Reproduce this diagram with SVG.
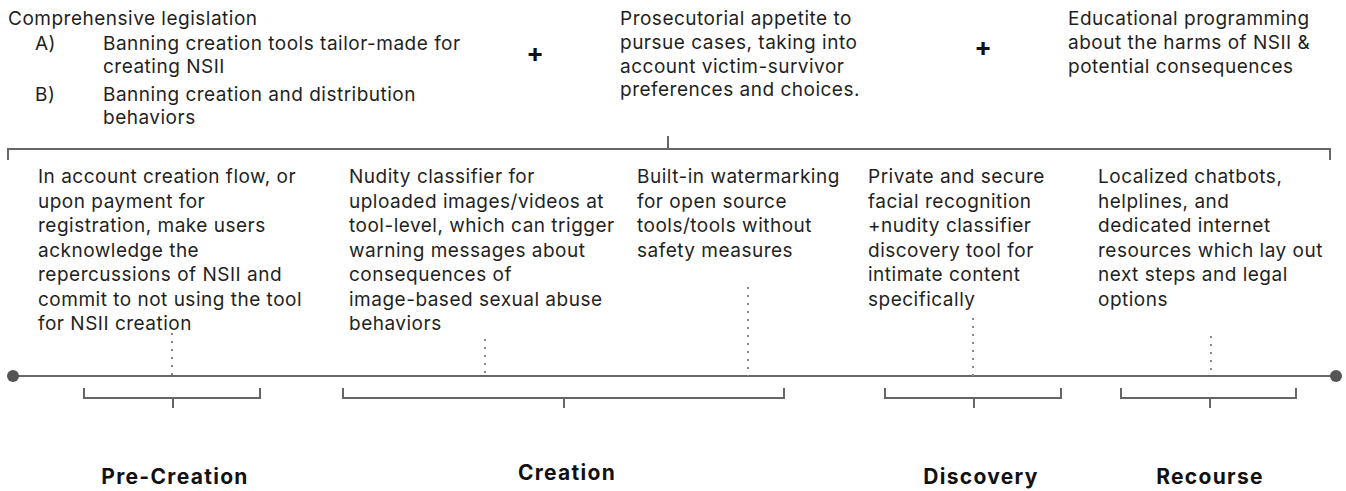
<svg xmlns="http://www.w3.org/2000/svg" width="1346" height="491" viewBox="0 0 1346 491">
<style>
text{font-family:Inter,Roboto,"Noto Sans","Liberation Sans",sans-serif;fill:#1f1f1f;}
.b{font-size:19px;letter-spacing:0.5px;}
.h{font-size:21px;font-weight:bold;text-anchor:middle;fill:#111;letter-spacing:1.3px;}
.plus{font-size:26px;font-weight:bold;text-anchor:middle;fill:#111;}
.ln{stroke:#666;stroke-width:2;fill:none;}
.dot{stroke:#888;stroke-width:2;stroke-dasharray:2 6;fill:none;}
</style>
<rect width="1346" height="491" fill="#fff"/>
<g id="legislation">
<text class="b" x="8" y="25">Comprehensive legislation</text>
<text class="b" x="35" y="50">A)</text>
<text class="b" x="103" y="50">Banning creation tools tailor-made for</text>
<text class="b" x="103" y="73">creating NSII</text>
<text class="b" x="35" y="101">B)</text>
<text class="b" x="103" y="101">Banning creation and distribution</text>
<text class="b" x="103" y="124">behaviors</text>
</g>
<g id="plus1"><text class="plus" x="535" y="62">+</text></g>
<g id="prosecution">
<text class="b" x="620" y="25">Prosecutorial appetite to</text>
<text class="b" x="620" y="49">pursue cases, taking into</text>
<text class="b" x="620" y="73">account victim-survivor</text>
<text class="b" x="620" y="96">preferences and choices.</text>
</g>
<g id="plus2"><text class="plus" x="983" y="56">+</text></g>
<g id="education">
<text class="b" x="1068" y="25">Educational programming</text>
<text class="b" x="1068" y="49">about the harms of NSII &amp;</text>
<text class="b" x="1068" y="73">potential consequences</text>
</g>
<g id="connectors">
<path class="ln" d="M8,160 V149 H1330 V160"/>
<path class="ln" d="M668,136 V149"/>
<path class="ln" d="M13,376 H1336"/>
<circle cx="13" cy="376" r="6" fill="#555"/>
<circle cx="1336" cy="376" r="6" fill="#555"/>
<path class="dot" d="M172,333 V376"/>
<path class="dot" d="M485,339 V376"/>
<path class="dot" d="M748,287 V376"/>
<path class="dot" d="M973,318 V376"/>
<path class="dot" d="M1211,336 V376"/>
<path class="ln" d="M84,388 V398 H260 V388 M173,398 V408"/>
<path class="ln" d="M343,388 V398 H784 V388 M564,398 V408"/>
<path class="ln" d="M885,388 V398 H1061 V388 M974,398 V408"/>
<path class="ln" d="M1121,388 V398 H1296 V388 M1210,398 V408"/>
</g>
<g id="precreation-item">
<text class="b" x="38" y="183">In account creation flow, or</text>
<text class="b" x="38" y="207.5">upon payment for</text>
<text class="b" x="38" y="232">registration, make users</text>
<text class="b" x="38" y="256.5">acknowledge the</text>
<text class="b" x="38" y="281">repercussions of NSII and</text>
<text class="b" x="38" y="305.5">commit to not using the tool</text>
<text class="b" x="38" y="330">for NSII creation</text>
</g>
<g id="classifier-item">
<text class="b" x="349" y="183">Nudity classifier for</text>
<text class="b" x="349" y="207.5">uploaded images/videos at</text>
<text class="b" x="349" y="232">tool-level, which can trigger</text>
<text class="b" x="349" y="256.5">warning messages about</text>
<text class="b" x="349" y="281">consequences of</text>
<text class="b" x="349" y="305.5">image-based sexual abuse</text>
<text class="b" x="349" y="330">behaviors</text>
</g>
<g id="watermark-item">
<text class="b" x="637" y="183">Built-in watermarking</text>
<text class="b" x="637" y="207.5">for open source</text>
<text class="b" x="637" y="232">tools/tools without</text>
<text class="b" x="637" y="256.5">safety measures</text>
</g>
<g id="discovery-item">
<text class="b" x="868" y="183">Private and secure</text>
<text class="b" x="868" y="207.5">facial recognition</text>
<text class="b" x="868" y="232">+nudity classifier</text>
<text class="b" x="868" y="256.5">discovery tool for</text>
<text class="b" x="868" y="281">intimate content</text>
<text class="b" x="868" y="305.5">specifically</text>
</g>
<g id="recourse-item">
<text class="b" x="1098" y="183">Localized chatbots,</text>
<text class="b" x="1098" y="207.5">helplines, and</text>
<text class="b" x="1098" y="232">dedicated internet</text>
<text class="b" x="1098" y="256.5">resources which lay out</text>
<text class="b" x="1098" y="281">next steps and legal</text>
<text class="b" x="1098" y="305.5">options</text>
</g>
<g id="stage-precreation"><text class="h" x="175" y="484">Pre-Creation</text></g>
<g id="stage-creation"><text class="h" x="567" y="480">Creation</text></g>
<g id="stage-discovery"><text class="h" x="981" y="484">Discovery</text></g>
<g id="stage-recourse"><text class="h" x="1210" y="484">Recourse</text></g>
</svg>
